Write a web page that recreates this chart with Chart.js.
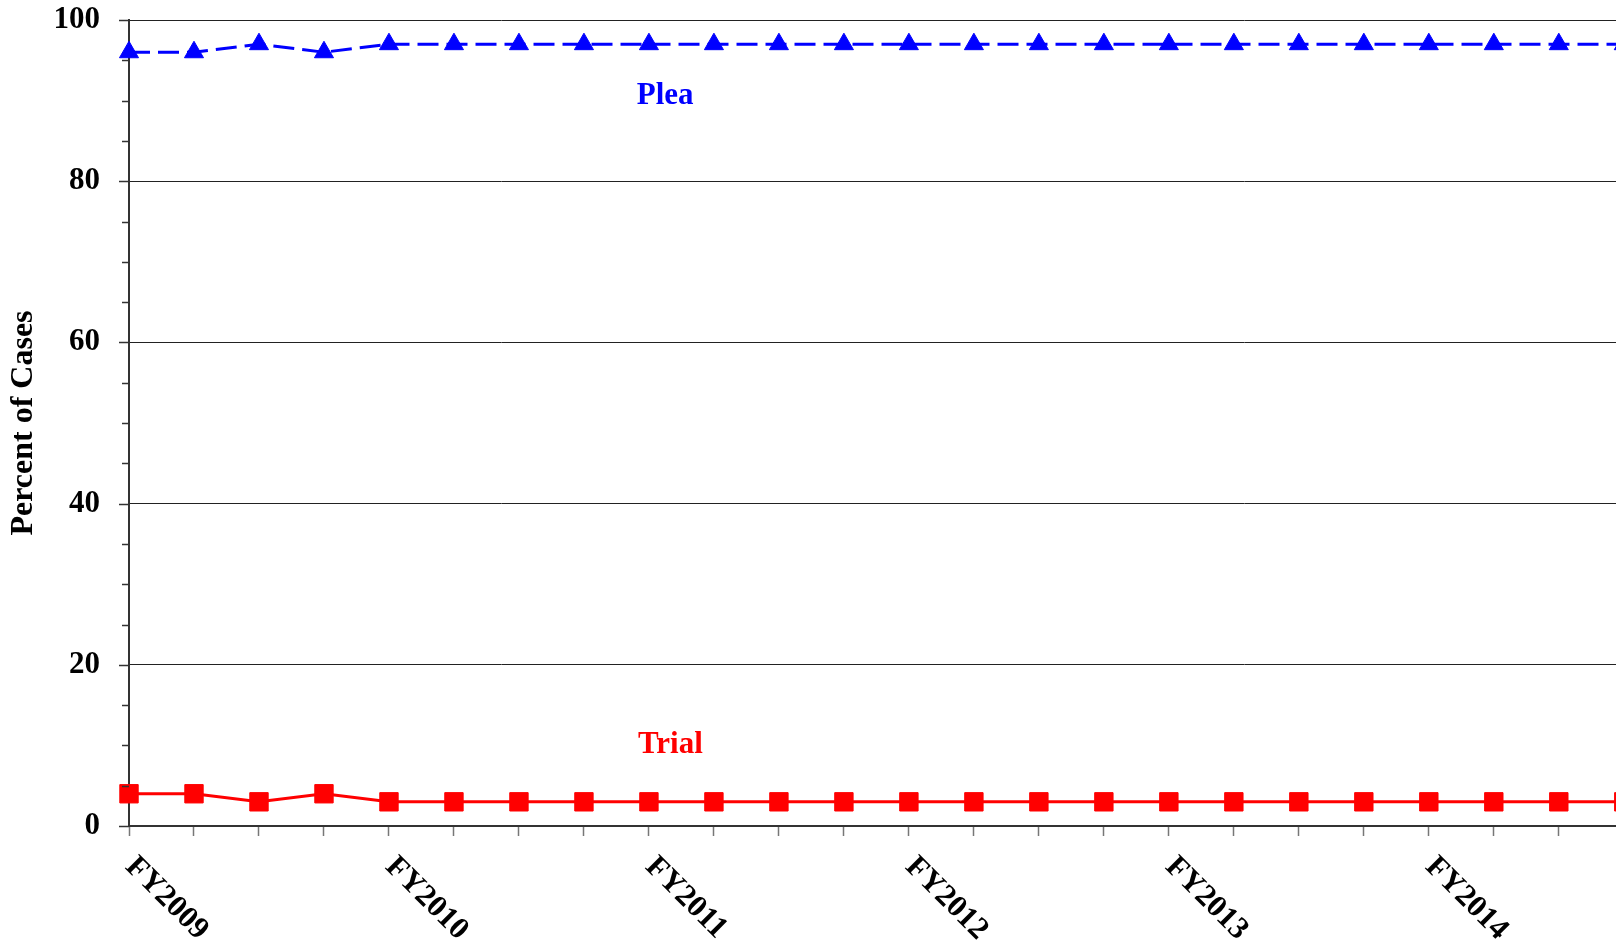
<!DOCTYPE html>
<html>
<head>
<meta charset="utf-8">
<script src="https://cdn.jsdelivr.net/npm/chart.js@4.4.1/dist/chart.umd.min.js"></script>
<style>
  html, body { margin: 0; padding: 0; background: #fff; overflow: hidden; }
  canvas { display: block; }
</style>
</head>
<body>
<canvas id="chart" width="1616" height="946"></canvas>
<script>
// quarterly values, FY2009 Q1 .. FY2014 Q4
const quarters = [
  'FY2009', '', '', '', 'FY2010', '', '', '', 'FY2011', '', '', '',
  'FY2012', '', '', '', 'FY2013', '', '', '', 'FY2014', '', '', ''
];
const pleaValues = [96, 96, 97, 96, 97, 97, 97, 97, 97, 97, 97, 97, 97, 97, 97, 97, 97, 97, 97, 97, 97, 97, 97, 97];
const trialValues = [4, 4, 3, 4, 3, 3, 3, 3, 3, 3, 3, 3, 3, 3, 3, 3, 3, 3, 3, 3, 3, 3, 3, 3];
const yTicks = [0, 20, 40, 60, 80, 100];

const FONT = '"Liberation Serif", "Times New Roman", serif';

const toPoints = vals => vals.map((v, i) => ({ x: i, y: v }));

// series name labels, placed in data units
const seriesLabels = [
  { text: 'Plea', x: 8.25, y: 90.6, color: '#0000ff' },
  { text: 'Trial', x: 8.33, y: 10.0, color: '#ff0000' },
];

const decorations = {
  id: 'decorations',
  afterDraw(chart) {
    const ctx = chart.ctx;
    const xs = chart.scales.x;
    const ys = chart.scales.y;
    const axisX = ys.right;
    const axisY = xs.top;
    ctx.save();

    // y tick marks: major at labels, minor every 5
    ctx.strokeStyle = '#333';
    ctx.lineWidth = 1.5;
    for (let v = 0; v <= 100; v += 5) {
      const py = Math.round(ys.getPixelForValue(v)) + 0.5;
      const len = v % 20 === 0 ? 10 : 7;
      ctx.beginPath();
      ctx.moveTo(axisX - len, py);
      ctx.lineTo(axisX, py);
      ctx.stroke();
    }

    // x labels rotated down to the right
    ctx.fillStyle = '#000';
    ctx.font = 'bold 31px ' + FONT;
    ctx.textAlign = 'left';
    ctx.textBaseline = 'middle';
    quarters.forEach((q, i) => {
      if (!q) return;
      const px = xs.getPixelForValue(i);
      ctx.save();
      ctx.translate(px + 1, axisY + 36);
      ctx.rotate(Math.PI / 4);
      ctx.fillText(q, 0, 0);
      ctx.restore();
    });

    // series labels
    ctx.textAlign = 'center';
    seriesLabels.forEach(l => {
      ctx.fillStyle = l.color;
      ctx.fillText(l.text, xs.getPixelForValue(l.x), ys.getPixelForValue(l.y));
    });
    ctx.restore();
  }
};

new Chart(document.getElementById('chart'), {
  type: 'line',
  data: {
    datasets: [
      {
        label: 'Plea',
        data: toPoints(pleaValues),
        borderColor: '#0000ff',
        backgroundColor: '#0000ff',
        borderWidth: 3,
        borderDash: [21, 8],
        pointStyle: 'triangle',
        pointRadius: 11,
        pointBorderWidth: 1,
        tension: 0,
        clip: { left: 20, right: 20, top: 20, bottom: 20 },
      },
      {
        label: 'Trial',
        data: toPoints(trialValues),
        borderColor: '#ff0000',
        backgroundColor: '#ff0000',
        borderWidth: 3,
        pointStyle: 'rect',
        pointRadius: 13,
        pointBorderWidth: 1,
        tension: 0,
        clip: { left: 20, right: 20, top: 20, bottom: 20 },
      },
    ],
  },
  options: {
    responsive: false,
    animation: false,
    layout: { autoPadding: false, padding: { top: 20, left: 0, right: 0, bottom: 0 } },
    plugins: {
      legend: { display: false },
      title: { display: false },
      tooltip: { enabled: false },
    },
    scales: {
      x: {
        type: 'linear',
        min: 0,
        max: 22.88,
        afterFit: s => {
          s.height = 120;
          s.paddingLeft = 0; s.paddingRight = 0; s.paddingTop = 0; s.paddingBottom = 0;
        },
        afterBuildTicks: s => { s.ticks = quarters.map((q, i) => ({ value: i })); },
        ticks: { display: false },
        border: { display: true, color: '#333', width: 2 },
        grid: {
          drawOnChartArea: false,
          drawTicks: true,
          tickLength: 10,
          tickColor: '#777',
          tickWidth: 1.5,
        },
      },
      y: {
        min: 0,
        max: 100,
        afterFit: s => {
          s.width = 129;
          s.paddingLeft = 0; s.paddingRight = 0; s.paddingTop = 0; s.paddingBottom = 0;
        },
        afterBuildTicks: s => { s.ticks = yTicks.map(v => ({ value: v })); },
        ticks: {
          padding: 29,
          color: '#000',
          font: { family: FONT, size: 31, weight: 'bold' },
        },
        border: { display: true, color: '#333', width: 2 },
        grid: {
          drawTicks: false,
          color: ctx => ctx.tick && ctx.tick.value === 0 ? 'rgba(0,0,0,0)' : '#222',
          lineWidth: 1,
          borderDash: [1, 2],
        },
        title: {
          display: true,
          text: 'Percent of Cases',
          color: '#000',
          font: { family: FONT, size: 32, weight: 'bold' },
          padding: { top: 5, bottom: 0 },
        },
      },
    },
  },
  plugins: [decorations],
});
</script>
</body>
</html>
